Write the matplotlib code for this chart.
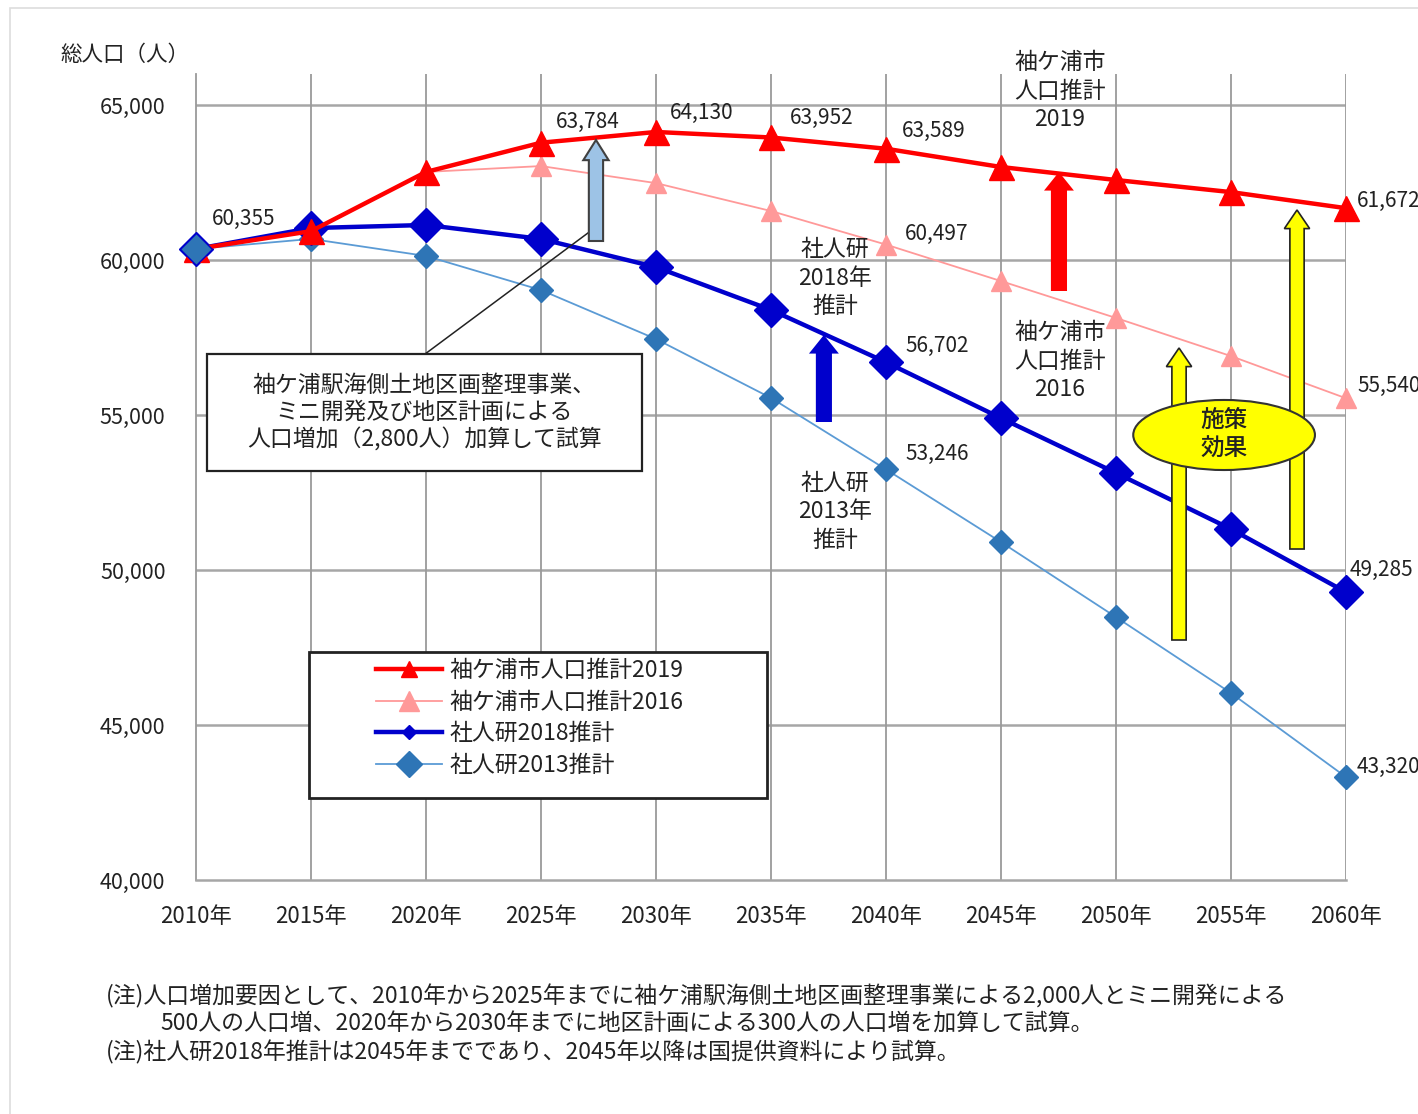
import matplotlib
matplotlib.use("Agg")
import matplotlib.pyplot as plt
from matplotlib.patches import Polygon, Rectangle, Ellipse
from matplotlib.lines import Line2D

plt.rcParams['font.family'] = ['Noto Sans CJK JP', 'DejaVu Sans']

# ---- data ---------------------------------------------------------------
years = [2010, 2015, 2020, 2025, 2030, 2035, 2040, 2045, 2050, 2055, 2060]
year_labels = [f"{y}年" for y in years]

city_2019 = [60355, 60930, 62840, 63784, 64130, 63952, 63589, 63000, 62580, 62190, 61672]
city_2016 = [60355, 60930, 62840, 63030, 62480, 61580, 60497, 59320, 58130, 56900, 55540]
ipss_2018 = [60355, 61030, 61130, 60680, 59770, 58390, 56702, 54900, 53130, 51320, 49285]
ipss_2013 = [60355, 60680, 60130, 59030, 57450, 55550, 53246, 50900, 48480, 46030, 43320]

series_names = ["袖ケ浦市人口推計2019", "袖ケ浦市人口推計2016",
                "社人研2018推計", "社人研2013推計"]
y_ticks = [40000, 45000, 50000, 55000, 60000, 65000]

W, H = 1418, 1114
fig = plt.figure(figsize=(W / 100, H / 100), dpi=100)
fig.patch.set_facecolor("white")
TXT = "#222222"


def fp(x, y):
    """pixel position -> figure fraction"""
    return x / W, 1 - y / H


ax = fig.add_axes([196 / W, 1 - 880 / H, (1346 - 196) / W, (880 - 74) / H])
ax.set_xlim(2010, 2060)
ax.set_ylim(40000, 66000)

# grid
for y in y_ticks[1:]:
    ax.axhline(y, color="#a6a6a6", lw=1.8, zorder=1)
for x in years[1:]:
    ax.axvline(x, color="#9a9a9a", lw=1.3, zorder=1)
for s in ["top", "right"]:
    ax.spines[s].set_visible(False)
ax.spines["left"].set_color("#9a9a9a")
ax.spines["left"].set_linewidth(1.3)
ax.spines["bottom"].set_color("#a6a6a6")
ax.spines["bottom"].set_linewidth(1.8)

ax.set_xticks(years)
ax.set_xticklabels(year_labels, fontsize=16, color=TXT)
ax.set_yticks(y_ticks)
ax.set_yticklabels([f"{v:,}" for v in y_ticks], fontsize=15.5, color=TXT)
ax.tick_params(axis="both", length=0)
ax.tick_params(axis="x", pad=18)
ax.tick_params(axis="y", pad=22)

# series
line_kw = dict(clip_on=False)
ax.plot(years, ipss_2013, color="#5b9bd5", lw=1.3, marker="D", ms=12,
        mfc="#2e75b6", mec="#2e75b6", zorder=3, **line_kw)
ax.plot(years, city_2016, color="#ff9999", lw=1.3, marker="^", ms=14,
        mfc="#ff9999", mec="#ff9999", zorder=3, **line_kw)
ax.plot(years, ipss_2018, color="#0000cc", lw=3.2, marker="D", ms=17,
        mfc="#0000cc", mec="#0000cc", zorder=4, **line_kw)
ax.plot(years, city_2019, color="#ff0000", lw=3.2, marker="^", ms=18,
        mfc="#ff0000", mec="#ff0000", zorder=4, **line_kw)
# the starting point of the 2013 estimate drawn on top
ax.plot(years[:1], ipss_2013[:1], ls="none", marker="D", ms=16,
        mfc="#2e75b6", mec="#0000cc", zorder=5, **line_kw)

# value labels
def vlabel(series, idx, dx, dy):
    ax.annotate(f"{series[idx]:,}", (years[idx], series[idx]),
                xytext=(dx, dy), textcoords="offset pixels",
                ha="left", va="center", fontsize=15, color=TXT,
                annotation_clip=False, zorder=6)

vlabel(city_2019, 0, 16, 30)
vlabel(city_2019, 3, 15, 21)
vlabel(city_2019, 4, 14, 19)
vlabel(city_2019, 5, 19, 20)
vlabel(city_2019, 6, 16, 18)
vlabel(city_2016, 6, 19, 11)
vlabel(ipss_2018, 6, 19, 16)
vlabel(ipss_2013, 6, 19, 15)
vlabel(city_2019, 10, 11, 7)
vlabel(city_2016, 10, 11, 12)
vlabel(ipss_2018, 10, 4, 22)
vlabel(ipss_2013, 10, 11, 10)


# block arrows (vertical)
def up_arrow(x, y0, y1, shaft, head, head_len, fc, ec, lw=1.2, z=6):
    pts = [(x - shaft / 2, y0), (x - shaft / 2, y1 - head_len),
           (x - head / 2, y1 - head_len), (x, y1),
           (x + head / 2, y1 - head_len), (x + shaft / 2, y1 - head_len),
           (x + shaft / 2, y0)]
    ax.add_patch(Polygon(pts, closed=True, fc=fc, ec=ec, lw=lw, zorder=z,
                         clip_on=False))

up_arrow(2027.39, 60613, 63871, 0.62, 1.10, 650, "#9dc3e6", "#404040", 1.5)
up_arrow(2047.52, 59000, 62839, 0.70, 1.30, 600, "#ff0000", "none", 0)
up_arrow(2037.30, 54774, 57581, 0.70, 1.30, 600, "#0000cc", "none", 0)
up_arrow(2052.74, 47742, 57161, 0.62, 1.10, 600, "#ffff00", "#222222", 1.2)
up_arrow(2057.87, 50677, 61613, 0.62, 1.10, 600, "#ffff00", "#222222", 1.2)

ax.add_patch(Ellipse((2054.70, 54355), 7.9, 2260, fc="#ffff00",
                     ec="#333333", lw=1.5, zorder=7))
ax.text(2054.70, 54355, "施策\n効果", ha="center", va="center",
        fontsize=17, linespacing=1.35, color=TXT, fontweight="medium",
        zorder=8)

# callout box for the development projects
ax.plot([2019.96, 2027.04], [56968, 60871], color=TXT, lw=1.1, zorder=5)
ax.add_patch(Rectangle((2010.48, 53194), 2029.39 - 2010.48, 56968 - 53194,
                       fc="white", ec=TXT, lw=1.6, zorder=6))
ax.text(2019.93, 55081,
        "袖ケ浦駅海側土地区画整理事業、\nミニ開発及び地区計画による\n人口増加（2,800人）加算して試算",
        ha="center", va="center", fontsize=16.5, linespacing=1.2,
        color=TXT, zorder=7)

# series captions
cap_kw = dict(ha="center", va="center", fontsize=16.5, linespacing=1.3,
              color=TXT)
fig.text(*fp(1060, 91), "袖ケ浦市\n人口推計\n2019", **cap_kw)
fig.text(*fp(835, 278), "社人研\n2018年\n推計", **cap_kw)
fig.text(*fp(1060, 361), "袖ケ浦市\n人口推計\n2016", **cap_kw)
fig.text(*fp(835, 512), "社人研\n2013年\n推計", **cap_kw)

# axis title
fig.text(*fp(60, 55), "総人口（人）", ha="left", va="center", fontsize=15.5,
         color=TXT)

# legend with a hand-drawn frame
handles = [
    Line2D([], [], color="#ff0000", lw=3.2, marker="^", ms=11, mfc="#ff0000", mec="#ff0000"),
    Line2D([], [], color="#ff9999", lw=1.3, marker="^", ms=14, mfc="#ff9999", mec="#ff9999"),
    Line2D([], [], color="#0000cc", lw=3.2, marker="D", ms=7, mfc="#0000cc", mec="#0000cc"),
    Line2D([], [], color="#5b9bd5", lw=1.3, marker="D", ms=13, mfc="#2e75b6", mec="#2e75b6"),
]
fig.patches.append(Rectangle(fp(309, 798), (767 - 309) / W, (798 - 652) / H,
                             transform=fig.transFigure, fc="white",
                             ec=TXT, lw=2.0, zorder=8))
leg = fig.legend(handles, series_names, loc="upper left",
                 bbox_to_anchor=fp(369, 652), frameon=False, fontsize=16.5,
                 handlelength=2.9, handletextpad=0.3, labelspacing=0.38,
                 borderaxespad=0, borderpad=0.3)
leg.set_zorder(9)
for t in leg.get_texts():
    t.set_color(TXT)

# notes
note_kw = dict(ha="left", va="center", fontsize=16.5, color=TXT)
fig.text(*fp(106, 996), "(注)人口増加要因として、2010年から2025年までに袖ケ浦駅海側土地区画整理事業による2,000人とミニ開発による", **note_kw)
fig.text(*fp(160, 1024), "500人の人口増、2020年から2030年までに地区計画による300人の人口増を加算して試算。", **note_kw)
fig.text(*fp(106, 1052), "(注)社人研2018年推計は2045年までであり、2045年以降は国提供資料により試算。", **note_kw)

# outer frame
fig.patches.append(Rectangle(fp(10, 1130), (W + 20) / W, (1130 - 8) / H,
                             transform=fig.transFigure, fc="none",
                             ec="#dddddd", lw=1.2, zorder=0))

fig.savefig("out.png", dpi=100, facecolor="white")
